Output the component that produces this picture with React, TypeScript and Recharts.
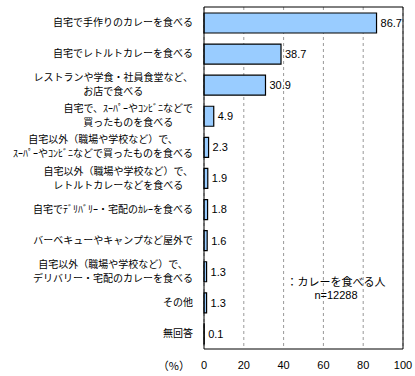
import React from 'react';
import {
  BarChart,
  Bar,
  XAxis,
  YAxis,
  CartesianGrid,
  LabelList,
} from 'recharts';

const categories = [
  '自宅で手作りのカレーを食べる',
  '自宅でレトルトカレーを食べる',
  'レストランや学食・社員食堂など、\nお店で食べる',
  '自宅で、ｽｰﾊﾟｰやｺﾝﾋﾞﾆなどで\n買ったものを食べる',
  '自宅以外（職場や学校など）で、\nｽｰﾊﾟｰやｺﾝﾋﾞﾆなどで買ったものを食べる',
  '自宅以外（職場や学校など）で、\nレトルトカレーなどを食べる',
  '自宅でﾃﾞﾘﾊﾞﾘｰ・宅配のｶﾚｰを食べる',
  'バーベキューやキャンプなど屋外で',
  '自宅以外（職場や学校など）で、\nデリバリー・宅配のカレーを食べる',
  'その他',
  '無回答',
];

const values = [86.7, 38.7, 30.9, 4.9, 2.3, 1.9, 1.8, 1.6, 1.3, 1.3, 0.1];

const xTicks = [0, 20, 40, 60, 80, 100];
const topTicks = [20, 40, 60, 80];
const rowBoundaries = [1, 2, 3, 4, 5, 6, 7, 8, 9, 10];

const legendText = '：カレーを食べる人';
const sampleText = 'n=12288';
const unitText = '（%）';

const chartData = categories.map((name, i) => ({ name, value: values[i] }));

const JP_FONT = "'Noto Sans CJK JP', sans-serif";
const NUM_FONT = "'Liberation Sans Narrow', 'Liberation Sans', Arial, sans-serif";
const LABEL_SIZE = 10;

let ctx: CanvasRenderingContext2D | null = null;
function measure(text: string) {
  if (!ctx) ctx = document.createElement('canvas').getContext('2d');
  if (!ctx) return text.length * LABEL_SIZE;
  ctx.font = `${LABEL_SIZE}px ${JP_FONT}`;
  return ctx.measureText(text).width;
}

// two-line labels are centred as a block, right edge on the axis side
function CategoryTick(props: any) {
  const { x, y, payload } = props;
  const lines = String(payload.value).split('\n');
  const lineHeight = 14;
  const maxW = Math.max(...lines.map(measure));
  const cx = x - maxW / 2;
  const startY = y - ((lines.length - 1) * lineHeight) / 2;
  return (
    <g>
      {lines.map((line, i) => (
        <text
          key={i}
          x={lines.length > 1 ? cx : x}
          y={startY + i * lineHeight}
          dy="0.35em"
          textAnchor={lines.length > 1 ? 'middle' : 'end'}
          fontSize={LABEL_SIZE}
          fontFamily={JP_FONT}
          fill="#000"
        >
          {line}
        </text>
      ))}
    </g>
  );
}

export default function App() {
  return (
    <div style={{ position: 'absolute', left: 0, top: 0, width: 415, height: 376, background: '#fff' }}>
      <BarChart
        width={415}
        height={376}
        data={chartData}
        layout="vertical"
        margin={{ top: 7, right: 12, left: 0, bottom: 0 }}
        barSize={20}
      >
        <CartesianGrid horizontal={false} stroke="#999" strokeDasharray="3 3" />
        <XAxis
          type="number"
          domain={[0, 100]}
          ticks={xTicks}
          height={27}
          axisLine={{ stroke: '#000' }}
          tickLine={false}
          tickSize={0}
          tickMargin={12}
          tick={{ fill: '#000', fontSize: 11, fontFamily: NUM_FONT }}
        />
        <XAxis
          xAxisId="top"
          orientation="top"
          type="number"
          domain={[0, 100]}
          ticks={topTicks}
          mirror
          tick={false}
          tickSize={5}
          tickLine={{ stroke: '#000' }}
          axisLine={{ stroke: '#000' }}
        />
        <YAxis
          type="category"
          dataKey="name"
          width={204}
          axisLine={{ stroke: '#000' }}
          tickLine={false}
          tickSize={0}
          tickMargin={11}
          interval={0}
          tick={<CategoryTick />}
        />
        <YAxis
          yAxisId="bounds"
          type="number"
          domain={[0, 11]}
          ticks={rowBoundaries}
          mirror
          tick={false}
          tickSize={3}
          tickLine={{ stroke: '#000' }}
          axisLine={false}
        />
        <YAxis
          yAxisId="right"
          orientation="right"
          type="number"
          domain={[0, 11]}
          mirror
          tick={false}
          tickLine={false}
          axisLine={{ stroke: '#000' }}
        />
        <Bar dataKey="value" fill="#99CCFF" stroke="#000" strokeWidth={1.2} isAnimationActive={false}>
          <LabelList
            dataKey="value"
            position="right"
            offset={4}
            fill="#000"
            fontSize={11}
            fontFamily={NUM_FONT}
          />
        </Bar>
      </BarChart>
      <div
        style={{
          position: 'absolute',
          left: 150,
          top: 358,
          width: 40,
          textAlign: 'right',
          fontSize: 11,
          fontFamily: JP_FONT,
          color: '#000',
          lineHeight: '14px',
        }}
      >
        {unitText}
      </div>
      <div
        style={{
          position: 'absolute',
          left: 280,
          top: 274,
          width: 112,
          textAlign: 'center',
          fontSize: 11,
          fontFamily: JP_FONT,
          color: '#000',
          lineHeight: '14px',
        }}
      >
        <div>{legendText}</div>
        <div style={{ fontFamily: NUM_FONT }}>{sampleText}</div>
      </div>
    </div>
  );
}
